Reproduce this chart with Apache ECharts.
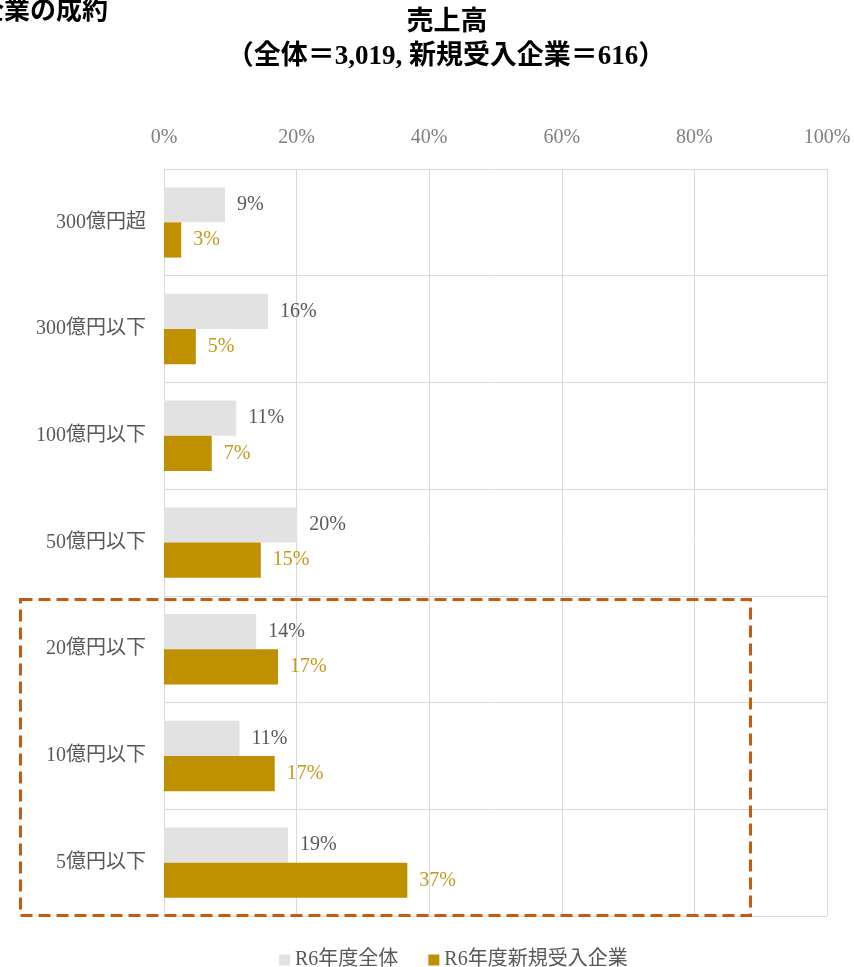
<!DOCTYPE html>
<html>
<head>
<meta charset="utf-8">
<script src="https://cdn.jsdelivr.net/npm/echarts@6/dist/echarts.min.js"></script>
<style>
  html, body { margin: 0; padding: 0; background: #fff; }
  #chart { width: 854px; height: 967px; }
</style>
</head>
<body>
<div id="chart"></div>
<script>
const categories = ['300億円超', '300億円以下', '100億円以下', '50億円以下', '20億円以下', '10億円以下', '5億円以下']
const allCompanies = [9.2, 15.7, 10.9, 20.1, 13.9, 11.4, 18.7]
const newCompanies = [2.6, 4.8, 7.2, 14.6, 17.2, 16.7, 36.7]
const seriesNames = ['R6年度全体', 'R6年度新規受入企業']

const FONT = '"Liberation Serif", "Noto Sans CJK JP", serif'

const chart = echarts.init(document.getElementById('chart'))

chart.setOption({
  backgroundColor: '#fff',
  textStyle: { fontFamily: FONT },
  graphic: [
    {
      type: 'text',
      left: -22,
      top: -1,
      style: { text: '企業の成約', font: 'bold 26px ' + FONT, fill: '#000' },
    },
    {
      type: 'text',
      x: 447,
      y: 23,
      style: {
        text: '売上高',
        font: 'bold 27px ' + FONT,
        fill: '#000',
        align: 'center',
        verticalAlign: 'middle',
      },
    },
    {
      type: 'text',
      x: 446,
      y: 57,
      style: {
        text: '（全体＝3,019, 新規受入企業＝616）',
        font: 'bold 27px ' + FONT,
        fill: '#000',
        align: 'center',
        verticalAlign: 'middle',
      },
    },
    {
      // 点線の枠
      type: 'rect',
      left: 18,
      top: 597,
      shape: { width: 730, height: 316 },
      style: { fill: 'none', stroke: '#c55a11', lineWidth: 3, lineDash: [12, 6] },
      z: 100,
    },
  ],
  legend: {
    data: seriesNames,
    top: 945,
    left: 274,
    itemWidth: 11,
    itemHeight: 11,
    itemGap: 30,
    icon: 'rect',
    textStyle: { fontFamily: FONT, fontSize: 20, color: '#595959' },
  },
  grid: {
    left: 164,
    right: 27,
    top: 169,
    bottom: 51,
  },
  xAxis: {
    type: 'value',
    position: 'top',
    min: 0,
    max: 100,
    interval: 20,
    axisLine: { show: false },
    axisTick: { show: false },
    axisLabel: {
      formatter: '{value}%',
      fontFamily: FONT,
      fontSize: 20,
      color: '#7f7f7f',
      margin: 21,
    },
    splitLine: { show: true, lineStyle: { color: '#d9d9d9', width: 1 } },
  },
  yAxis: {
    type: 'category',
    data: categories,
    inverse: true,
    axisLine: { show: true, lineStyle: { color: '#d9d9d9' } },
    axisTick: { show: false },
    axisLabel: { fontFamily: FONT, fontSize: 20, color: '#595959', margin: 18 },
    splitLine: { show: true, lineStyle: { color: '#d9d9d9', width: 1 } },
  },
  series: [
    {
      name: seriesNames[0],
      type: 'bar',
      data: allCompanies,
      barGap: '0%',
      barCategoryGap: '34%',
      itemStyle: { color: '#e2e2e2' },
      label: {
        show: true,
        position: 'right',
        distance: 12,
        formatter: (p) => Math.round(p.value) + '%',
        fontFamily: FONT,
        fontSize: 20,
        color: '#595959',
      },
    },
    {
      name: seriesNames[1],
      type: 'bar',
      data: newCompanies,
      barGap: '0%',
      barCategoryGap: '34%',
      itemStyle: { color: '#bf9000' },
      label: {
        show: true,
        position: 'right',
        distance: 12,
        formatter: (p) => Math.round(p.value) + '%',
        fontFamily: FONT,
        fontSize: 20,
        color: '#c49a1c',
      },
    },
  ],
})
</script>
</body>
</html>
